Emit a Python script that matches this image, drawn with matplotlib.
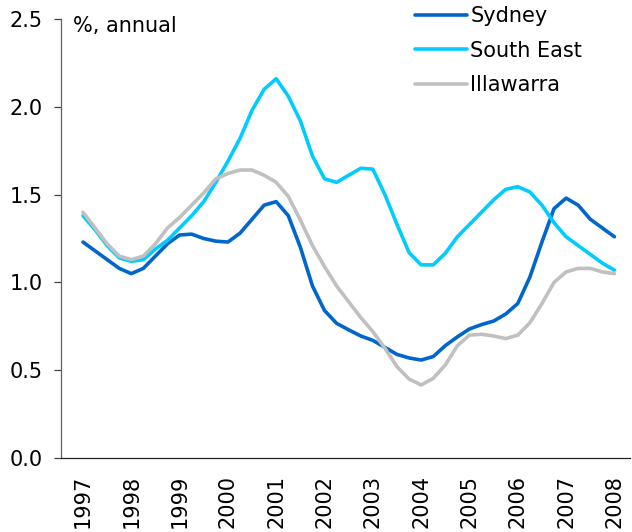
import numpy as np
import matplotlib
matplotlib.use("Agg")
import matplotlib.pyplot as plt

# Quarterly observations, 1997 Q1 .. 2008 Q1
years = np.arange(1997.0, 2008.01, 0.25)

sydney = [1.23, 1.18, 1.13, 1.08, 1.05, 1.08, 1.15, 1.22, 1.27, 1.275, 1.25, 1.235,
          1.23, 1.28, 1.36, 1.44, 1.46, 1.38, 1.20, 0.98, 0.84, 0.767, 0.73, 0.695,
          0.67, 0.63, 0.59, 0.57, 0.558, 0.578, 0.64, 0.69, 0.735, 0.76, 0.78, 0.82,
          0.88, 1.03, 1.23, 1.42, 1.48, 1.44, 1.36, 1.31, 1.26]

south_east = [1.38, 1.30, 1.21, 1.14, 1.12, 1.13, 1.19, 1.24, 1.31, 1.38, 1.46, 1.57,
              1.69, 1.82, 1.98, 2.10, 2.16, 2.06, 1.92, 1.72, 1.59, 1.57, 1.61, 1.65,
              1.645, 1.50, 1.33, 1.17, 1.10, 1.10, 1.166, 1.26, 1.33, 1.40, 1.47, 1.53,
              1.545, 1.515, 1.44, 1.34, 1.26, 1.21, 1.16, 1.11, 1.07]

illawarra = [1.40, 1.31, 1.22, 1.15, 1.13, 1.15, 1.22, 1.31, 1.37, 1.44, 1.51, 1.59,
             1.62, 1.64, 1.64, 1.61, 1.57, 1.49, 1.355, 1.21, 1.09, 0.98, 0.89, 0.80,
             0.72, 0.625, 0.52, 0.45, 0.416, 0.454, 0.53, 0.64, 0.70, 0.705, 0.695, 0.68,
             0.70, 0.77, 0.88, 1.00, 1.06, 1.08, 1.08, 1.06, 1.05]

series_names = ["Sydney", "South East", "Illawarra"]
series_colors = ["#0066CC", "#00CCFF", "#C0C0C0"]

year_ticks = list(range(1997, 2009))
y_ticks = [0.0, 0.5, 1.0, 1.5, 2.0, 2.5]

plt.rcParams["font.family"] = ["DejaVu Sans"]
FS = 15

fig = plt.figure(figsize=(6.32, 5.32), dpi=100)
ax = fig.add_axes([0.0965, 0.139, 0.9005, 0.8253])

for vals, name, col in zip([sydney, south_east, illawarra], series_names, series_colors):
    ax.plot(years, vals, color=col, lw=2.6, label=name,
            solid_joinstyle="round", solid_capstyle="round")

ax.set_xlim(1996.545, 2008.325)
ax.set_ylim(0, 2.5)
ax.set_xticks(year_ticks)
ax.set_xticklabels([str(y) for y in year_ticks], rotation=90, fontsize=FS)
ax.set_yticks(y_ticks)
ax.set_yticklabels([f"{v:.1f}" for v in y_ticks], fontsize=FS)

ax.tick_params(axis="x", length=0, pad=12, colors="black")
ax.tick_params(axis="y", length=5, width=0.9, pad=8, colors="#404040", labelcolor="black")

for side in ("top", "right"):
    ax.spines[side].set_visible(False)
ax.spines["left"].set_color("#606060")
ax.spines["bottom"].set_color("#202020")
ax.spines["left"].set_linewidth(0.9)
ax.spines["bottom"].set_linewidth(0.9)

ax.text(0.021, 1.007, "%, annual", transform=ax.transAxes, fontsize=FS,
        ha="left", va="top")

leg = ax.legend(loc="upper left", bbox_to_anchor=(415 / 632, 1 - 6 / 532),
                bbox_transform=fig.transFigure, frameon=False, fontsize=FS,
                handlelength=2.5, handletextpad=0.15, labelspacing=0.7,
                borderpad=0, borderaxespad=0)

fig.savefig("out.png", dpi=100)
